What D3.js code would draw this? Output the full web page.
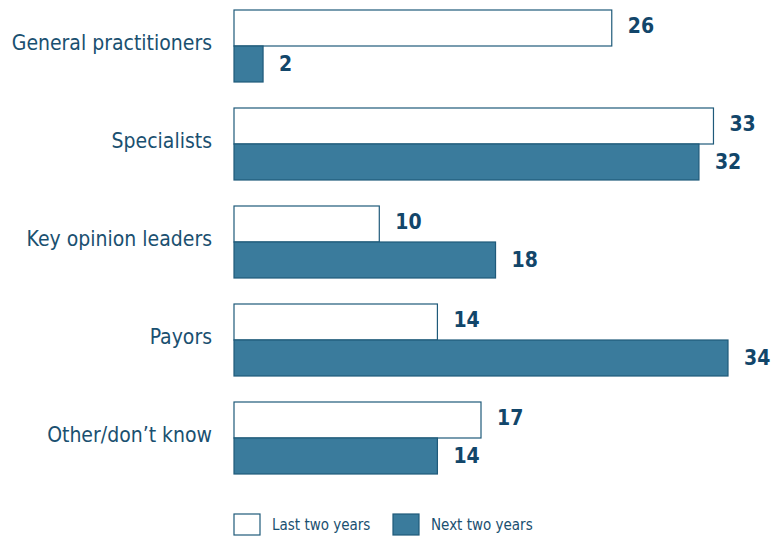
<!DOCTYPE html>
<html>
<head>
<meta charset="utf-8">
<script src="https://cdn.jsdelivr.net/npm/d3@7"></script>
<style>
  body { margin: 0; background: #fff; }
  text { font-family: "Liberation Sans Narrow", "DejaVu Sans Condensed", sans-serif; font-stretch: condensed; }
</style>
</head>
<body>
<div id="container"></div>
<script>
/* DATA */
var categories = ["General practitioners", "Specialists", "Key opinion leaders", "Payors", "Other/don\u2019t know"];
var lastTwo = [26, 33, 10, 14, 17];
var nextTwo = [2, 32, 18, 34, 14];
var seriesNames = ["Last two years", "Next two years"];

var width = 772,
    height = 537,
    barH = 36;

var fills = ["#ffffff", "#3a7b9c"];
var stroke = "#1f5a7a";

var xScale = d3.scaleLinear()
  .domain([0, 34])
  .range([234, 728]);

var yScale = d3.scaleBand()
  .domain(categories)
  .range([10, 474])
  .paddingInner(26 / 98)
  .paddingOuter(0);

var svg = d3.select('#container').append('svg')
  .attr('width', width)
  .attr('height', height);

var series = [lastTwo, nextTwo];

var groups = svg.selectAll('g.cat')
  .data(categories)
  .enter().append('g')
  .attr('class', 'cat')
  .attr('transform', function(d) { return 'translate(0,' + yScale(d) + ')'; });

groups.append('text')
  .attr('x', 212)
  .attr('y', barH - 3)
  .attr('dy', '0.35em')
  .attr('text-anchor', 'end')
  .style('font-size', '21px')
  .style('fill', '#1a5070')
  .text(function(d) { return d; });

series.forEach(function(vals, s) {
  groups.append('rect')
    .attr('x', xScale(0))
    .attr('y', s * barH)
    .attr('width', function(d, i) { return xScale(vals[i]) - xScale(0); })
    .attr('height', barH)
    .style('fill', fills[s])
    .style('stroke', stroke)
    .style('stroke-width', 1.2);

  groups.append('text')
    .attr('x', function(d, i) { return xScale(vals[i]) + 16; })
    .attr('y', s * barH + barH / 2 - (s === 0 ? 2 : 0))
    .attr('dy', '0.35em')
    .style('font-size', '21px')
    .style('font-weight', 'bold')
    .style('fill', '#12466a')
    .text(function(d, i) { return vals[i]; });
});

/* LEGEND */
var legendX = [234, 393];
var legend = svg.selectAll('g.legend')
  .data(seriesNames)
  .enter().append('g')
  .attr('class', 'legend')
  .attr('transform', function(d, i) { return 'translate(' + legendX[i] + ',514)'; });

legend.append('rect')
  .attr('width', 26)
  .attr('height', 21)
  .style('fill', function(d, i) { return fills[i]; })
  .style('stroke', stroke)
  .style('stroke-width', 1.2);

legend.append('text')
  .attr('x', 38)
  .attr('y', 11)
  .attr('dy', '0.35em')
  .style('font-size', '15px')
  .style('fill', '#1a5070')
  .text(function(d) { return d; });
</script>
</body>
</html>
